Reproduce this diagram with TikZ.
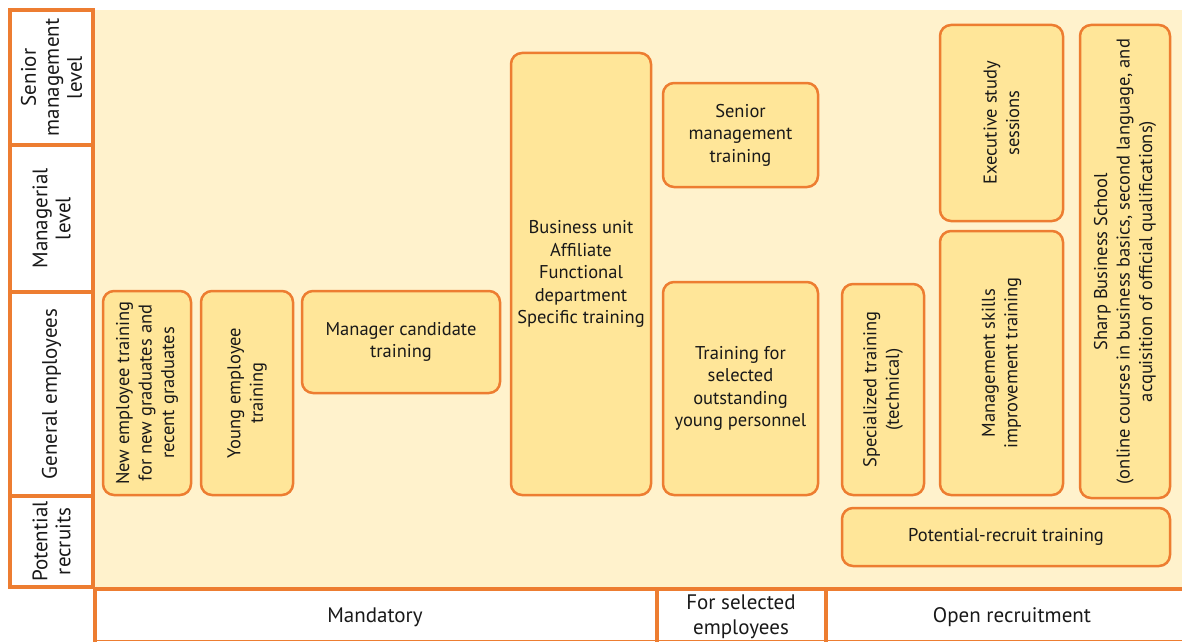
\documentclass[tikz,border=0pt]{standalone}
\usepackage{fontspec}
\setmainfont{PT Sans}
\definecolor{orng}{HTML}{ED7D31}
\definecolor{boxfill}{HTML}{FFE699}
\definecolor{bgfill}{HTML}{FFF2CC}
\tikzset{
  tbox/.style={draw=orng, line width=2.5pt, fill=boxfill, rounded corners=11pt,
    align=center, inner sep=2pt, font=\fontsize{18.5}{22.5}\selectfont, text=black!90},
  rbox/.style={tbox, rotate=90},
  cell/.style={draw=orng, line width=4pt, fill=white, align=center, inner sep=0pt,
    rotate=90, font=\fontsize{21}{23}\selectfont, text=black!90},
  lbl/.style={align=center, font=\fontsize{21}{25}\selectfont, text=black!90},
}
\begin{document}
\begin{tikzpicture}[x=1pt,y=-1pt]
\useasboundingbox (0,0) rectangle (1182,642);
% background
\fill[bgfill] (95,10) rectangle (1182,587);
% left column cells
\node[cell, minimum width=135, minimum height=83] (csen) at (51.5,77.5) {Senior\\management\\level};
\node[cell, minimum width=147, minimum height=83] (cman) at (51.5,218.5) {Managerial\\level};
\node[cell, minimum width=204, minimum height=83] (cgen) at (51.5,394) {General employees};
\node[cell, minimum width=91, minimum height=83] (cpot) at (51.5,541.5) {Potential\\recruits};
% bottom row
\draw[orng, line width=1.5pt] (95,640.5) -- (1182,640.5);
\draw[orng, line width=4pt] (93,588.5) -- (1182,588.5);
\draw[orng, line width=4pt] (95,586.5) -- (95,642);
\draw[orng, line width=4pt] (656.5,588.5) -- (656.5,642);
\draw[orng, line width=4pt] (826,588.5) -- (826,642);
\node[lbl] (mand) at (375,617) {Mandatory};
\node[lbl] (forsel) at (741,616.5) {For selected\\employees};
\node[lbl] (openr) at (1012,617) {Open recruitment};
% training boxes
\node[rbox, minimum width=204, minimum height=88] (ne) at (147,393) {New employee training\\for new graduates and\\recent graduates};
\node[rbox, minimum width=204, minimum height=92] (ye) at (247,393) {Young employee\\training};
\node[tbox, minimum width=198, minimum height=102] (mc) at (401,342) {Manager candidate\\training};
\node[tbox, minimum width=140, minimum height=442] (bu) at (581,274) {Business unit\\Affiliate\\Functional\\department\\Specific training};
\node[tbox, minimum width=155, minimum height=104] (sm) at (740.5,135) {Senior\\management\\training};
\node[tbox, minimum width=155, minimum height=213] (to) at (740.5,388.5) {Training for\\selected\\outstanding\\young personnel};
\node[rbox, minimum width=211, minimum height=82] (sp) at (883,389.5) {Specialized training\\(technical)};
\node[rbox, minimum width=196, minimum height=123] (es) at (1001.5,123) {Executive study\\sessions};
\node[rbox, minimum width=264, minimum height=123] (ms) at (1001.5,363) {Management skills\\improvement training};
\node[rbox, minimum width=473, minimum height=90] (sb) at (1125,261.5) {Sharp Business School\\(online courses in business basics, second language, and\\acquisition of official qualifications)};
\node[tbox, minimum width=328, minimum height=58] (pr) at (1006,537) {Potential-recruit training};
\end{tikzpicture}
\end{document}
